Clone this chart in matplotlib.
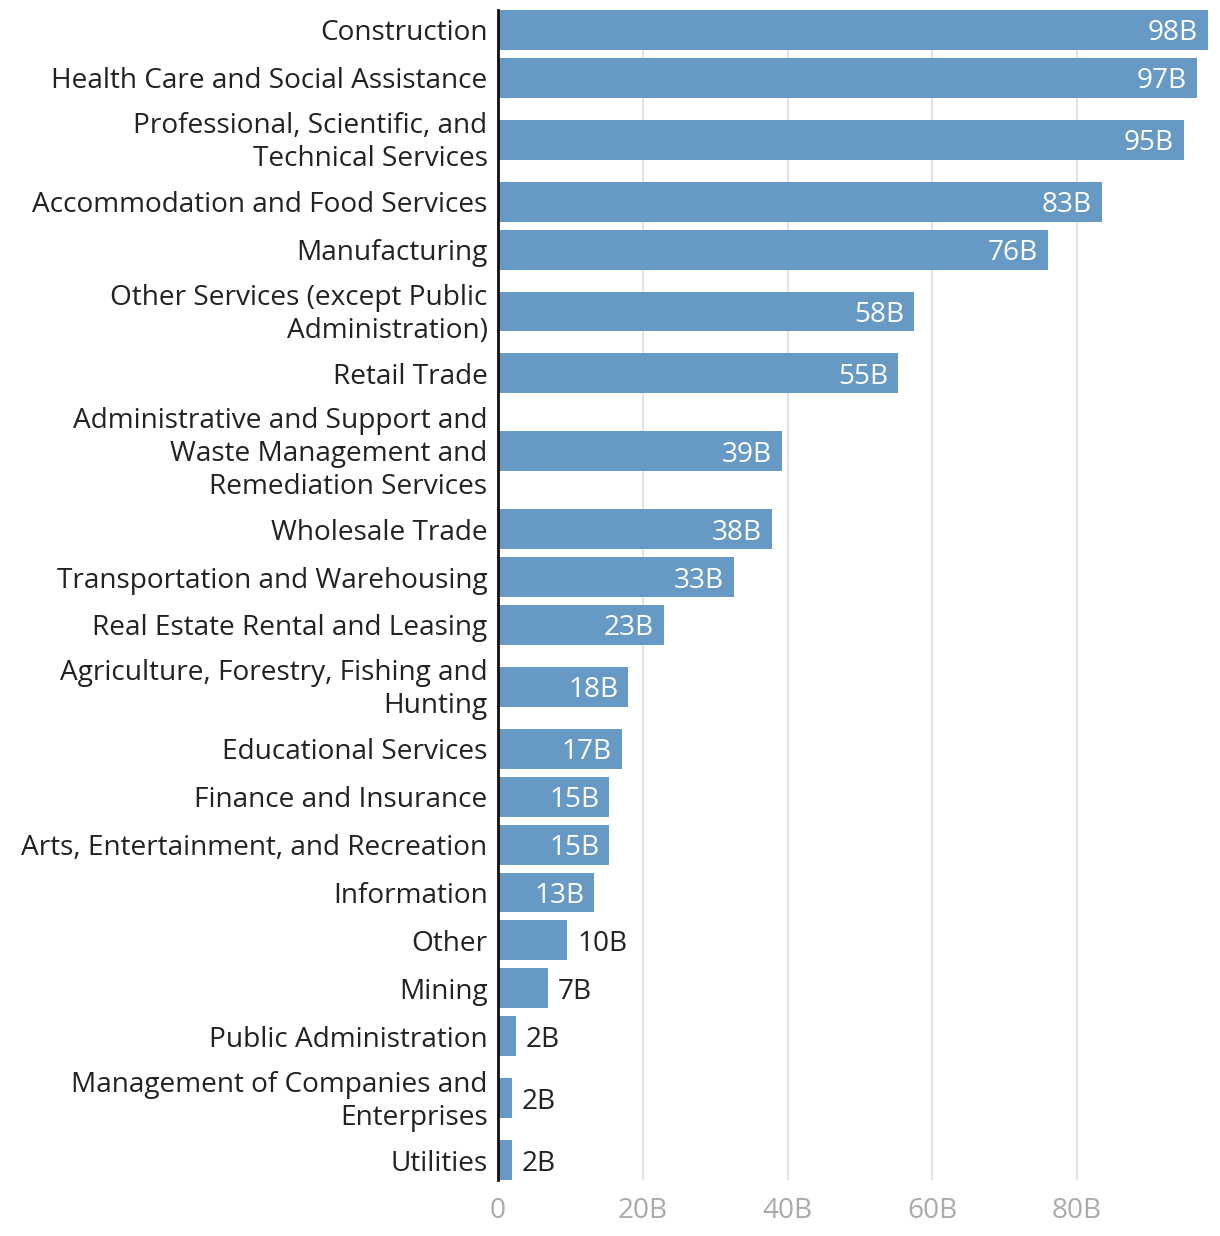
import numpy as np
import matplotlib.pyplot as plt
import matplotlib.transforms as mtransforms
from matplotlib.ticker import FuncFormatter

plt.rcParams['font.family'] = ['Open Sans', 'DejaVu Sans']

industries = [
    "Construction",
    "Health Care and Social Assistance",
    "Professional, Scientific, and\nTechnical Services",
    "Accommodation and Food Services",
    "Manufacturing",
    "Other Services (except Public\nAdministration)",
    "Retail Trade",
    "Administrative and Support and\nWaste Management and\nRemediation Services",
    "Wholesale Trade",
    "Transportation and Warehousing",
    "Real Estate Rental and Leasing",
    "Agriculture, Forestry, Fishing and\nHunting",
    "Educational Services",
    "Finance and Insurance",
    "Arts, Entertainment, and Recreation",
    "Information",
    "Other",
    "Mining",
    "Public Administration",
    "Management of Companies and\nEnterprises",
    "Utilities",
]
values_b = [98.1, 96.6, 94.8, 83.4, 76.0, 57.5, 55.3, 39.2, 37.9, 32.6, 22.9,
            18.0, 17.1, 15.4, 15.4, 13.3, 9.6, 6.9, 2.5, 1.9, 1.9]

bar_color = "#6699c4"
text_color = "#222222"
fs = 20.2

# band height grows with the number of label lines
lines = np.array([s.count("\n") + 1 for s in industries])
band = np.where(lines == 1, 1.0, np.where(lines == 2, 76 / 48, 108 / 48))
edges = np.concatenate([[0], np.cumsum(band)])
centers = (edges[:-1] + edges[1:]) / 2
pad = 4 / 48

fig = plt.figure(figsize=(12.2, 12.36), dpi=100)
ax = fig.add_axes([498 / 1220, 56 / 1236, 710 / 1220, 1170 / 1236])

ax.barh(centers, values_b, height=40 / 48, color=bar_color, zorder=2)

ax.set_ylim(edges[-1] - pad, pad)
ax.set_xlim(0, max(values_b))
ax.set_yticks(centers)
ax.set_yticklabels(industries, fontsize=fs, color=text_color, linespacing=1.24)
ax.set_xticks([0, 20, 40, 60, 80])
ax.xaxis.set_major_formatter(FuncFormatter(lambda v, p: "0" if v == 0 else f"{v:.0f}B"))
ax.tick_params(axis='x', colors="#aaaaaa", labelsize=fs, length=0, pad=12)
ax.tick_params(axis='y', length=0, pad=7.5)
ax.grid(axis='x', color="#e3e3e3", linewidth=1.5, zorder=0)

# nudge multi-line labels up a little
for lbl, n in zip(ax.get_yticklabels(), lines):
    if n > 1:
        shift = mtransforms.ScaledTranslation(0, 3 / 100, fig.dpi_scale_trans)
        lbl.set_transform(lbl.get_transform() + shift)

for side in ['top', 'right', 'bottom']:
    ax.spines[side].set_visible(False)
ax.spines['left'].set_color("#111111")
ax.spines['left'].set_linewidth(2)
ax.spines['left'].set_zorder(3)

for y, v in zip(centers, values_b):
    label = f"{v:.0f}B"
    if v > 12:
        ax.annotate(label, (v, y), xytext=(-10, 0), textcoords='offset pixels',
                    ha='right', va='center_baseline', color='white', fontsize=fs, zorder=4)
    else:
        ax.annotate(label, (v, y), xytext=(10, 0), textcoords='offset pixels',
                    ha='left', va='center_baseline', color=text_color, fontsize=fs, zorder=4)

fig.savefig("out.png", dpi=100)
